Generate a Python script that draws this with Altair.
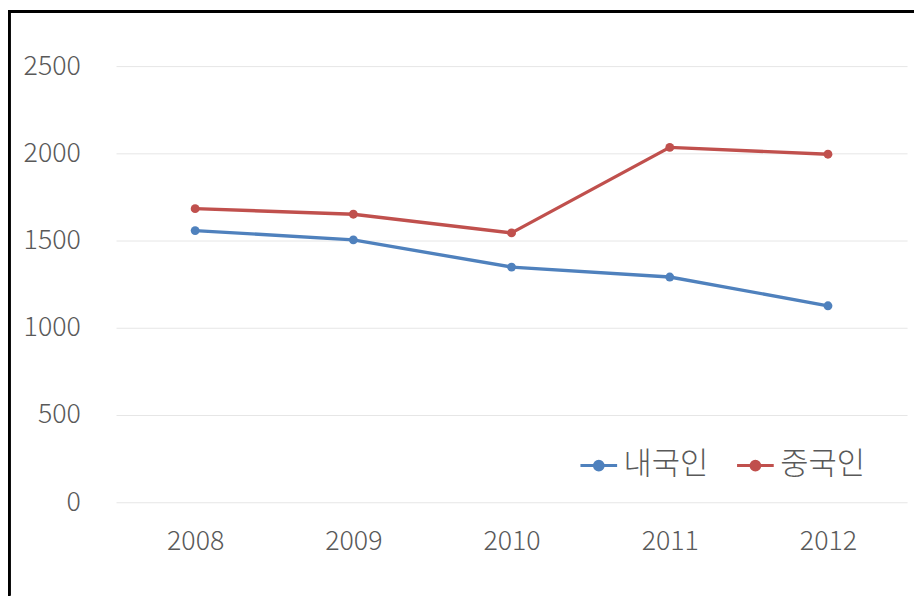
import altair as alt
import pandas as pd

years = ["2008", "2009", "2010", "2011", "2012"]
domestic = [1557, 1504, 1348, 1291, 1126]   # 내국인
chinese = [1683, 1651, 1544, 2034, 1995]    # 중국인
series_names = ["내국인", "중국인"]
colors = ["#4F81BD", "#C0504D"]
y_ticks = [0, 500, 1000, 1500, 2000, 2500]

rows = []
for y, d, c in zip(years, domestic, chinese):
    rows.append({"year": y, "series": series_names[0], "value": d})
    rows.append({"year": y, "series": series_names[1], "value": c})
df = pd.DataFrame(rows)

W, H = 798, 440
FONT = "Noto Sans CJK KR"

sym = "M-1,0H1M-0.24,0A0.24,0.24,0,1,1,0.24,0A0.24,0.24,0,1,1,-0.24,0Z"

base = alt.Chart(df).encode(
    x=alt.X("year:O", title=None,
            scale=alt.Scale(type="point", padding=0.5),
            axis=alt.Axis(labelAngle=0, ticks=False, domain=False, grid=False,
                          labelFont=FONT, labelFontSize=27, labelFontWeight=300,
                          labelColor="#595959", labelPadding=27)),
    y=alt.Y("value:Q", title=None,
            scale=alt.Scale(domain=[0, 2500], nice=False),
            axis=alt.Axis(values=y_ticks, format="d", ticks=False, domain=False, grid=True,
                          gridColor="#E6E6E6", gridWidth=1,
                          labelFont=FONT, labelFontSize=27, labelFontWeight=300,
                          labelColor="#595959", labelPadding=36)),
    color=alt.Color("series:N", title=None,
                    scale=alt.Scale(domain=series_names, range=colors),
                    legend=alt.Legend(orient="none", legendX=467, legendY=383,
                                      direction="horizontal",
                                      symbolType=sym, symbolSize=1369,
                                      symbolStrokeWidth=3,
                                      labelFont=FONT, labelFontSize=31,
                                      labelFontWeight=300,
                                      labelColor="#595959", labelOffset=5,
                                      columnPadding=22)),
)

lines = base.mark_line(strokeWidth=3.4, point=alt.OverlayMarkDef(size=80, filled=True, opacity=1))

frame_left = alt.Chart(df).mark_rule(color="black", strokeWidth=2.5).encode(
    x=alt.value(-108), y=alt.value(-56), y2=alt.value(H + 94))
frame_top = alt.Chart(df).mark_rule(color="black", strokeWidth=2.5).encode(
    x=alt.value(-109), x2=alt.value(W + 7), y=alt.value(-55))

chart = alt.layer(lines, frame_left, frame_top).properties(
    width=W, height=H,
    autosize=alt.AutoSizeParams(type="none"),
    padding={"left": 109, "top": 56, "right": 7, "bottom": 94},
).configure(background="white").configure_view(stroke="transparent", strokeWidth=0)

chart.save("out.html", embed_options={"renderer": "svg", "actions": False})
